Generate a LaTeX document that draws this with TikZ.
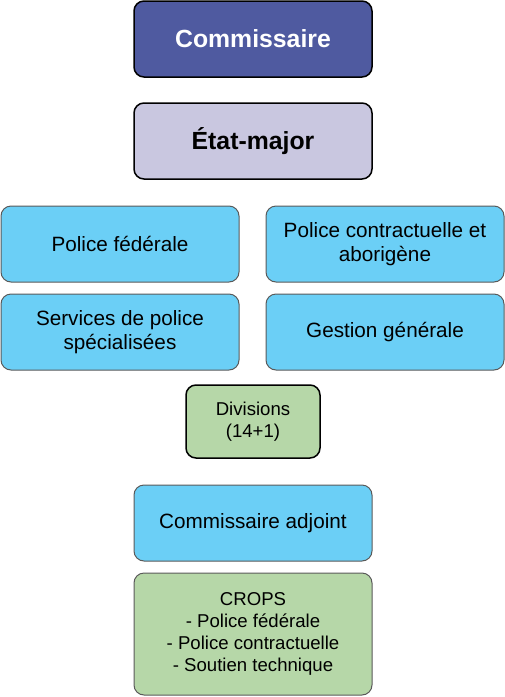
\documentclass[tikz,border=0pt]{standalone}
\usepackage{fontspec}
\setmainfont{Liberation Sans}
\usepackage{tikz}
\definecolor{chief}{RGB}{79,90,160}
\definecolor{staff}{RGB}{201,199,224}
\definecolor{sky}{RGB}{107,207,246}
\definecolor{sage}{RGB}{182,215,168}
\definecolor{edge}{RGB}{90,90,90}

\begin{document}
\begin{tikzpicture}[x=1pt, y=-1pt, box/.style = {shape=rectangle, align=center, rounded corners=10pt, minimum width=238pt, minimum height=76pt, inner sep=0pt}, head/.style = {box, draw=black, line width=1.5pt, font=\fontsize{24.8}{28}\selectfont\bfseries}, unit/.style = {box, draw=edge, line width=1pt, fill=sky, font=\fontsize{20.7}{24.3}\selectfont}, field/.style = {box, fill=sage, font=\fontsize{18.6}{22}\selectfont}]
				\useasboundingbox (0,0) rectangle (505,697);
				\node[head, fill=chief, text=white] (commissaire) at (253,39) {Commissaire};
				\node[head, fill=staff] (etatmajor) at (253,141) {État-major};
				\node[unit] (federale) at (120,244) {Police fédérale};
				\node[unit] (contractuelle) at (385,244) {Police contractuelle et\\aborigène};
				\node[unit] (specialisees) at (120,332) {Services de police\\spécialisées};
				\node[unit] (gestion) at (385,332) {Gestion générale};
				\node[field, draw=black, line width=1.5pt, minimum width=134pt, minimum height=73pt] (divisions) at (253,421.5) {Divisions\\(14+1)};
				\node[unit] (adjoint) at (253,523) {Commissaire adjoint};
				\node[field, draw=edge, line width=1pt, minimum height=122pt] (crops) at (253,634) {CROPS\\- Police fédérale\\- Police contractuelle\\- Soutien technique};
			\end{tikzpicture}
\end{document}
